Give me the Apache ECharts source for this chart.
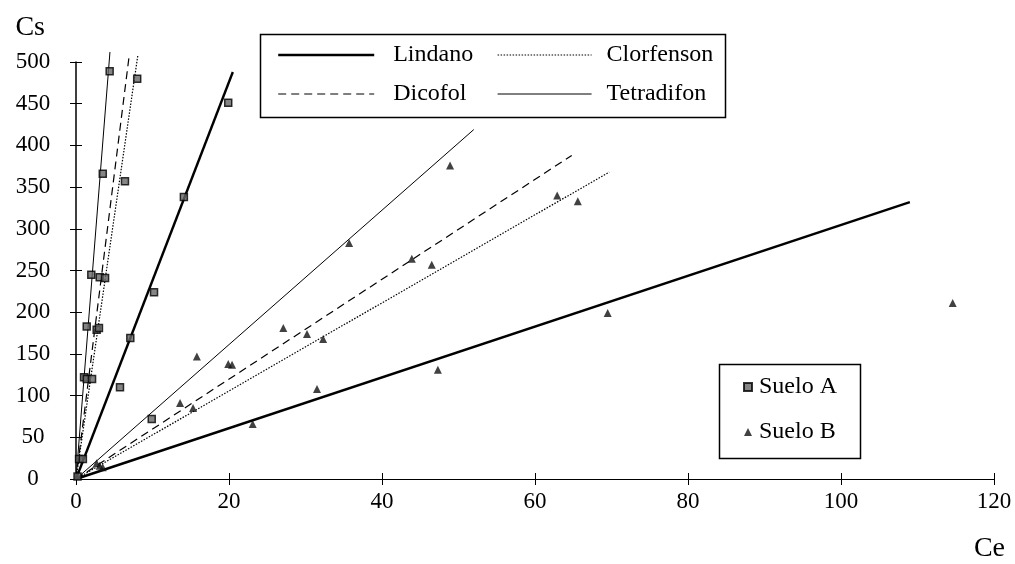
<!DOCTYPE html>
<html>
<head>
<meta charset="utf-8">
<script src="https://cdn.jsdelivr.net/npm/echarts@6/dist/echarts.min.js"></script>
<style>
  html, body { margin: 0; padding: 0; background: #fff; }
  #chart { width: 1015px; height: 564px; }
</style>
</head>
<body>
<div id="chart"></div>
<script>
// measured points [Ce, Cs]
const sueloA = [
  [0.2, 3], [0.4, 24], [0.9, 24], [1.05, 122], [1.4, 120], [2.1, 120],
  [1.4, 183], [2.0, 245], [2.7, 179], [3.0, 181], [3.1, 242], [3.8, 241],
  [3.5, 366], [4.4, 489], [6.4, 357], [8.0, 480], [19.9, 451], [14.1, 338],
  [10.2, 224], [7.1, 169], [5.75, 110], [9.9, 72]
];
const sueloB = [
  [2.7, 19], [3.1, 16], [3.5, 14], [13.6, 91], [15.3, 85], [15.8, 147],
  [19.9, 138], [20.4, 137], [23.1, 66], [48.9, 376], [35.7, 283], [43.9, 264],
  [46.5, 257], [27.1, 181], [30.2, 174], [32.3, 168], [31.5, 108], [47.3, 131],
  [62.9, 340], [65.6, 333], [69.5, 199], [114.6, 211]
];

// fitted lines, origin to end point
const lindanoA = [[0, 0], [20.5, 488]];
const dicofolA = [[0, 0], [6.93, 506]];
const clorfensonA = [[0, 0], [8.1, 509]];
const tetradifonA = [[0, 0], [4.44, 512]];
const lindanoB = [[0, 0], [109, 332]];
const dicofolB = [[0, 0], [64.8, 388]];
const clorfensonB = [[0, 0], [69.7, 368]];
const tetradifonB = [[0, 0], [52.0, 419]];

const font = 'Liberation Serif';

const lineStyles = {
  Lindano: { width: 2.4, type: 'solid' },
  Dicofol: { width: 1.2, type: [8, 5] },
  Clorfenson: { width: 1.2, type: [1.5, 1.5] },
  Tetradifon: { width: 1, type: 'solid' }
};

function fitLine(name, data) {
  return {
    name: name,
    type: 'line',
    data: data,
    symbol: 'none',
    clip: false,
    silent: true,
    itemStyle: { color: 'rgba(0,0,0,0)' },
    lineStyle: Object.assign({ color: '#000' }, lineStyles[name]),
    z: 2
  };
}

const chart = echarts.init(document.getElementById('chart'));

const option = {
  animation: false,
  backgroundColor: '#fff',
  grid: { left: 76, right: 21, top: 62, bottom: 85 },
  xAxis: [
    {
      type: 'value', min: 0, max: 120, interval: 20, position: 'bottom',
      name: 'Ce', nameLocation: 'end', nameGap: 0,
      nameTextStyle: {
        fontFamily: font, fontSize: 28, color: '#000',
        align: 'right', verticalAlign: 'top', padding: [56, -11, 0, 0]
      },
      axisLine: { onZero: false, lineStyle: { color: '#000', width: 1.2 } },
      axisTick: { length: 6, lineStyle: { color: '#000' } },
      axisLabel: { fontFamily: font, fontSize: 23, color: '#000', margin: 11 },
      splitLine: { show: false }
    },
    {
      type: 'value', min: 0, max: 120, interval: 20, position: 'bottom', offset: 0,
      axisLine: { show: false },
      axisTick: { inside: true, length: 6, lineStyle: { color: '#000' } },
      axisLabel: { show: false },
      splitLine: { show: false }
    }
  ],
  yAxis: [
    {
      type: 'value', min: 0, max: 500, interval: 50, position: 'left',
      name: 'Cs', nameLocation: 'end', nameGap: 20,
      nameTextStyle: {
        fontFamily: font, fontSize: 28, color: '#000',
        align: 'right', padding: [0, 31, 0, 0]
      },
      axisLine: { onZero: false, lineStyle: { color: '#000', width: 1.5 } },
      axisTick: { length: 6, lineStyle: { color: '#000' } },
      axisLabel: { fontFamily: font, fontSize: 23, color: '#000', margin: 43, align: 'center' },
      splitLine: { show: false }
    },
    {
      type: 'value', min: 0, max: 500, interval: 50, position: 'left', offset: 0,
      axisLine: { show: false },
      axisTick: { inside: true, length: 6, lineStyle: { color: '#000' } },
      axisLabel: { show: false },
      splitLine: { show: false }
    }
  ],
  legend: [
    {
      data: ['Lindano', 'Dicofol'],
      orient: 'vertical', left: 272, top: 38, itemGap: 15,
      itemWidth: 96, itemHeight: 14, selectedMode: false,
      itemStyle: { opacity: 0 },
      lineStyle: { width: 'inherit' },
      textStyle: { fontFamily: font, fontSize: 24, color: '#000', lineHeight: 24, padding: [0, 0, 0, 14] }
    },
    {
      data: ['Clorfenson', 'Tetradifon'],
      orient: 'vertical', left: 492, top: 38, itemGap: 15,
      itemWidth: 94, itemHeight: 14, selectedMode: false,
      itemStyle: { opacity: 0 },
      lineStyle: { width: 'inherit' },
      textStyle: { fontFamily: font, fontSize: 24, color: '#000', lineHeight: 24, padding: [0, 0, 0, 10] }
    },
    {
      data: ['Suelo A', 'Suelo B'],
      orient: 'vertical', left: 738, top: 370, itemGap: 21,
      itemWidth: 8, itemHeight: 8, selectedMode: false,
      textStyle: { fontFamily: font, fontSize: 24, color: '#000', lineHeight: 24, padding: [0, 0, 0, 2] }
    }
  ],
  graphic: [
    {
      type: 'rect', left: 258, top: 32, z: 10, silent: true,
      shape: { width: 465, height: 83 },
      style: { fill: 'none', stroke: '#000', lineWidth: 1.5 }
    },
    {
      type: 'rect', left: 717, top: 362, z: 10, silent: true,
      shape: { width: 141, height: 94 },
      style: { fill: 'none', stroke: '#000', lineWidth: 1.5 }
    }
  ],
  series: [
    fitLine('Lindano', lindanoA),
    fitLine('Dicofol', dicofolA),
    fitLine('Clorfenson', clorfensonA),
    fitLine('Tetradifon', tetradifonA),
    fitLine('Lindano', lindanoB),
    fitLine('Dicofol', dicofolB),
    fitLine('Clorfenson', clorfensonB),
    fitLine('Tetradifon', tetradifonB),
    {
      name: 'Suelo A',
      type: 'scatter',
      data: sueloA,
      symbol: 'rect',
      symbolSize: 7,
      itemStyle: { color: '#666', borderColor: '#000', borderWidth: 1.5 },
      z: 3
    },
    {
      name: 'Suelo B',
      type: 'scatter',
      data: sueloB,
      symbol: 'triangle',
      symbolSize: 8,
      itemStyle: { color: '#111' },
      z: 3
    }
  ]
};

chart.setOption(option);
</script>
</body>
</html>
